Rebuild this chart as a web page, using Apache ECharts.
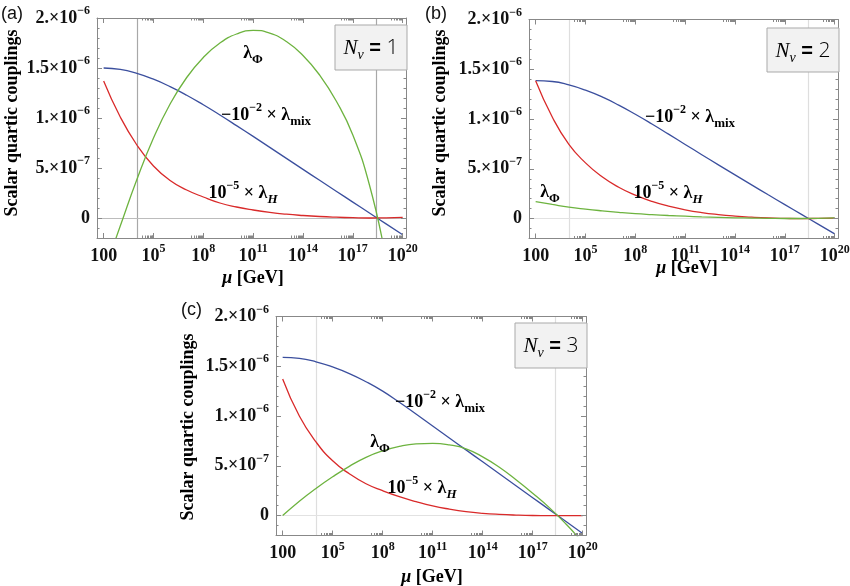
<!DOCTYPE html>
<html><head><meta charset="utf-8">
<script src="https://cdn.jsdelivr.net/npm/echarts@6/dist/echarts.min.js"></script>
<style>html,body{margin:0;padding:0;background:#fff}#c{width:850px;height:586px}</style>
</head><body><div id="c"></div>
<script>
// x = log10(mu / GeV); y values in units of 1e-6
const logMu = [2,3,4,5,6,7,8,9,10,11,12,13,14,15,16,17,18,19,20];
const majorTicksX = [2,5,8,11,14,17,20];
const majorTicksY = [0,0.5,1,1.5,2];
const refLinesX = [4, 18.38];
const panelNames = ['(a)','(b)','(c)'];
const nuCounts = ['1','2','3'];

// (a) N_nu = 1
const mixA = [1.50,1.486,1.446,1.388,1.314,1.228,1.132,1.03,0.924,0.816,0.706,0.596,0.486,0.377,0.268,0.159,0.05,-0.059,-0.168];
const hA   = [1.37,1.01,0.73,0.52,0.375,0.28,0.21,0.15,0.11,0.08,0.056,0.038,0.025,0.015,0.008,0.003,0,0.002,0.006];
const phiA = [-0.55,-0.08,0.385,0.80,1.14,1.405,1.605,1.75,1.84,1.877,1.848,1.765,1.625,1.43,1.17,0.83,0.33,-0.40,-1.25];
// (b) N_nu = 2
const mixB = [1.385,1.377,1.343,1.29,1.222,1.14,1.048,0.95,0.848,0.745,0.642,0.54,0.439,0.339,0.239,0.14,0.042,-0.056,-0.154];
const hB   = [1.385,1.02,0.745,0.56,0.42,0.315,0.235,0.172,0.125,0.088,0.06,0.04,0.025,0.014,0.006,0.002,0,0.002,0.005];
const phiB = [0.17,0.142,0.115,0.095,0.078,0.063,0.05,0.04,0.031,0.024,0.017,0.012,0.008,0.005,0.003,0.001,0.001,0.003,0.007];
// (c) N_nu = 3
const mixC = [1.59,1.58,1.545,1.493,1.427,1.345,1.25,1.138,1.02,0.90,0.78,0.66,0.54,0.42,0.30,0.18,0.06,-0.06,-0.18];
const hC   = [1.373,1.0,0.74,0.55,0.42,0.32,0.25,0.19,0.14,0.097,0.065,0.04,0.023,0.012,0.005,0.001,0,0,0];
const phiC = [0,0.145,0.273,0.39,0.495,0.585,0.65,0.695,0.72,0.725,0.71,0.67,0.59,0.485,0.36,0.225,0.08,-0.085,-0.27];

const colMix = '#3b4f9e', colH = '#d92a2a', colPhi = '#6db33f';
const frameColor = '#888888';
const SERIF = '"Liberation Serif","DejaVu Serif",serif';
const SANS = '"Liberation Sans","DejaVu Sans",sans-serif';

const minorX = [];
majorTicksX.slice(1).forEach(n => { for (let k = 2; k <= 9; k++) minorX.push(n - 1 + Math.log10(k)); });
const minorY = [];
for (let k = -2; k <= 20; k++) if (k % 5 !== 0) minorY.push(k / 10);

function richSet(fs, color) {
  return {
    n: {fontFamily: SERIF, fontWeight: 'bold', fontSize: fs, lineHeight: fs + 8, verticalAlign: 'middle', color},
    i: {fontFamily: SERIF, fontWeight: 'bold', fontStyle: 'italic', fontSize: fs, lineHeight: fs + 8, verticalAlign: 'middle', color},
    s: {fontFamily: SERIF, fontWeight: 'bold', fontSize: Math.round(fs * 0.68), verticalAlign: 'top', color},
    b: {fontFamily: SERIF, fontWeight: 'bold', fontSize: Math.round(fs * 0.7), verticalAlign: 'bottom', color},
    bi: {fontFamily: SERIF, fontWeight: 'bold', fontStyle: 'italic', fontSize: Math.round(fs * 0.7), verticalAlign: 'bottom', color}
  };
}
const tickRich = richSet(18, '#111');
const fmtX = v => { const e = Math.round(v); return e === 2 ? '{n|100}' : '{n|10}{s|' + e + '}'; };
const yLab = {'0': '{n|0}', '0.5': '{n|5.×10}{s|−7}', '1': '{n|1.×10}{s|−6}', '1.5': '{n|1.5×10}{s|−6}', '2': '{n|2.×10}{s|−6}'};
const fmtY = v => yLab[String(Math.round(v * 10) / 10)] || '';

const grids = [
  {left: 97, top: 18, width: 309, height: 220},
  {left: 529, top: 19.5, width: 309, height: 219},
  {left: 276, top: 316.5, width: 310, height: 219}
];
const panelData = [
  {mix: mixA, h: hA, phi: phiA, refColor: '#a8a8a8', zeroColor: '#bcbcbc'},
  {mix: mixB, h: hB, phi: phiB, refColor: '#dedede', zeroColor: '#e2e2e2'},
  {mix: mixC, h: hC, phi: phiC, refColor: '#dedede', zeroColor: '#e2e2e2'}
];

const xAxes = [], yAxes = [], series = [];
grids.forEach((g, gi) => {
  const baseX = {gridIndex: gi, type: 'value', min: 1.6, max: 20.2, splitLine: {show: false}, z: 5};
  const baseY = {gridIndex: gi, type: 'value', min: -0.2, max: 2.0, splitLine: {show: false}, z: 5};
  const line = {show: true, onZero: false, lineStyle: {color: frameColor, width: 1}};
  const noLine = {show: false, onZero: false};
  const majT = vals => ({show: true, inside: true, length: 5, customValues: vals, lineStyle: {color: frameColor}});
  const minT = vals => ({show: true, inside: true, length: 2.5, customValues: vals, lineStyle: {color: frameColor}});
  xAxes.push(
    Object.assign({}, baseX, {position: 'bottom', axisLine: line, axisTick: majT(majorTicksX),
      axisLabel: {show: true, customValues: majorTicksX, formatter: fmtX, rich: tickRich, margin: 5}}),
    Object.assign({}, baseX, {position: 'bottom', axisLine: noLine, axisTick: minT(minorX), axisLabel: {show: false}}),
    Object.assign({}, baseX, {position: 'top', axisLine: line, axisTick: majT(majorTicksX), axisLabel: {show: false}}),
    Object.assign({}, baseX, {position: 'top', axisLine: noLine, axisTick: minT(minorX), axisLabel: {show: false}})
  );
  yAxes.push(
    Object.assign({}, baseY, {position: 'left', axisLine: line, axisTick: majT(majorTicksY),
      axisLabel: {show: true, customValues: majorTicksY, formatter: fmtY, rich: tickRich, margin: 7}}),
    Object.assign({}, baseY, {position: 'left', axisLine: noLine, axisTick: minT(minorY), axisLabel: {show: false}}),
    Object.assign({}, baseY, {position: 'right', axisLine: line, axisTick: majT(majorTicksY), axisLabel: {show: false}}),
    Object.assign({}, baseY, {position: 'right', axisLine: noLine, axisTick: minT(minorY), axisLabel: {show: false}})
  );
  const p = panelData[gi];
  const xi = gi * 4, yi = gi * 4;
  series.push({
    type: 'line', xAxisIndex: xi, yAxisIndex: yi, data: [], silent: true, z: 1,
    markLine: {silent: true, z: 1, symbol: 'none', label: {show: false}, animation: false,
      data: refLinesX.map(v => ({xAxis: v, lineStyle: {color: p.refColor, width: 1.2, type: 'solid'}}))
        .concat([{yAxis: 0, lineStyle: {color: p.zeroColor, width: 1.2, type: 'solid'}}])}
  });
  [[p.mix, colMix], [p.h, colH], [p.phi, colPhi]].forEach(([arr, col]) => {
    series.push({
      type: 'line', xAxisIndex: xi, yAxisIndex: yi, z: 3, showSymbol: false, smooth: 0.5, clip: true,
      data: logMu.map((x, i) => [x, arr[i]]),
      lineStyle: {color: col, width: 1.3}
    });
  });
});

const annRich = richSet(18, '#111');
const graphic = [];
function txt(x, y, text, rich, extra) {
  graphic.push(Object.assign({type: 'text', x, y, silent: true, z: 10,
    style: {text, rich, align: 'center', verticalAlign: 'middle'}}, extra || {}));
}
const titleRich = richSet(18, '#111');
const yTitlePos = [[12, 123], [440, 123], [188, 427]];
const xTitlePos = [[253, 278], [687, 268], [432, 577]];
const letterPos = [[1, 14], [425, 14], [181, 310]];
const boxes = [[335, 25, 72, 45], [767, 28, 72, 44], [515, 323, 72, 45]];
const labMix = [[266, 115], [690, 117], [440, 402]];
const labH = [[243, 193], [668, 193], [422, 488]];
const labPhi = [[253, 53], [550, 192], [380, 442]];

for (let k = 0; k < 3; k++) {
  txt(yTitlePos[k][0], yTitlePos[k][1], '{n|Scalar quartic couplings}', titleRich, {rotation: Math.PI / 2});
  txt(xTitlePos[k][0], xTitlePos[k][1], '{i|μ}{n| [GeV]}', titleRich);
  graphic.push({type: 'text', x: letterPos[k][0], y: letterPos[k][1], silent: true, z: 10,
    style: {text: panelNames[k], fontFamily: SANS, fontSize: 18, fill: '#111', align: 'left', verticalAlign: 'middle'}});
  const b = boxes[k];
  graphic.push({type: 'rect', silent: true, z: 9, shape: {x: b[0], y: b[1], width: b[2], height: b[3]},
    style: {fill: '#f2f2f2', stroke: '#a9a9a9', lineWidth: 1}});
  txt(b[0] + b[2] / 2, b[1] + b[3] / 2 + 1, '{N|N}{nu|ν}{eq| = }{v|' + nuCounts[k] + '}', {
    N: {fontFamily: SERIF, fontStyle: 'italic', fontSize: 21, lineHeight: 28, verticalAlign: 'middle', color: '#555'},
    nu: {fontFamily: SERIF, fontStyle: 'italic', fontSize: 14, verticalAlign: 'bottom', color: '#555'},
    eq: {fontFamily: SANS, fontWeight: 'bold', fontSize: 20, lineHeight: 28, verticalAlign: 'middle', color: '#222'},
    v: {fontFamily: '"Open Sans",' + SANS, fontWeight: 300, fontSize: 21, lineHeight: 28, verticalAlign: 'middle', color: '#555'}
  });
  txt(labMix[k][0], labMix[k][1], '{n|−10}{s|−2}{n| × λ}{b|mix}', annRich);
  txt(labH[k][0], labH[k][1], '{n|10}{s|−5}{n| × λ}{bi|H}', annRich);
  txt(labPhi[k][0], labPhi[k][1], '{n|λ}{b|Φ}', annRich);
}

const chart = echarts.init(document.getElementById('c'), null, {renderer: 'canvas'});
chart.setOption({
  animation: false,
  backgroundColor: '#fff',
  grid: grids.map(g => Object.assign({outerBoundsMode: 'none', containLabel: false}, g)),
  xAxis: xAxes,
  yAxis: yAxes,
  series,
  graphic
});
</script>
</body></html>
